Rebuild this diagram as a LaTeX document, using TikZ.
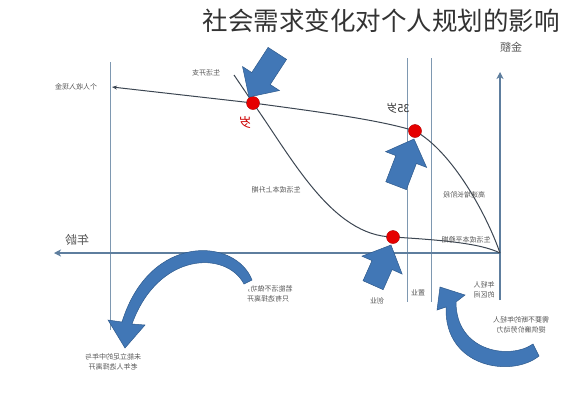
\documentclass[tikz,border=0pt]{standalone}
\usepackage{fontspec}
\usepackage{graphicx}
\setmainfont{Noto Sans CJK SC}
\usetikzlibrary{arrows.meta}
\definecolor{axisblue}{HTML}{5E7E9E}
\definecolor{curvegray}{HTML}{3C4652}
\definecolor{arrowblue}{HTML}{4177B6}
\definecolor{arrowedge}{HTML}{2E5A8C}
\definecolor{labelgray}{HTML}{555555}
\newcommand{\mirr}[1]{\reflectbox{#1}}
% block arrow: tip at origin pointing along +x; #1 total length
\newcommand{\blockarrowshape}[1]{%
  \path[bluefill] (0,0) -- (-22,22) -- (-22,11) -- (-#1,11) -- (-#1,-11) -- (-22,-11) -- (-22,-22) -- cycle;}
\tikzset{
  axisline/.style={draw=axisblue, line width=1.1pt},
  guideline/.style={draw=axisblue!80, line width=0.7pt},
  curveline/.style={draw=curvegray, line width=1pt},
  reddot/.style={circle, fill=red!90!black, draw=red!60!black, line width=0.4pt, minimum size=13pt, inner sep=0pt},
  bluefill/.style={fill=arrowblue, draw=arrowedge, line width=0.5pt},
  smalltext/.style={text=labelgray, font=\fontsize{7}{8.5}\selectfont, inner sep=1pt, align=center},
}
\begin{document}
\begin{tikzpicture}[x=1pt,y=-1pt]
\useasboundingbox (0,0) rectangle (562,400);
% title
\node (title) at (381,21) {\fontsize{25.5}{27}\selectfont\color{black!80}社会需求变化对个人规划的影响};
% guide lines
\coordinate (g1t) at (110,62); \coordinate (g1b) at (110,330);
\coordinate (g2t) at (407,58); \coordinate (g2b) at (407,302);
\coordinate (g3t) at (431,58); \coordinate (g3b) at (431,302);
\draw[guideline] (g1t) -- (g1b);
\draw[guideline] (g2t) -- (g2b);
\draw[guideline] (g3t) -- (g3b);
% axes
\coordinate (o) at (500,253);
\coordinate (ob) at (500,300);
\coordinate (ytop) at (500,72);
\coordinate (xleft) at (54,253);
\draw[axisline,-{Stealth[length=7pt,width=7pt,inset=2pt]}] (ob) -- (ytop);
\draw[axisline,-{Stealth[length=7pt,width=7pt,inset=2pt]}] (o) -- (xleft);
% red dots
\node[reddot] (d1) at (253,103) {};
\node[reddot] (d2) at (415,131) {};
\node[reddot] (d3) at (393,237) {};
% income curve
\coordinate (inc) at (112,87);
\draw[curveline,-{Stealth[length=5pt,width=4pt]}] (d1.center) -- (inc);
\draw[curveline] (d1.center) .. controls (320,112) and (380,120) .. (d2.center)
   .. controls (450,150) and (485,210) .. (o);
% expense curve
\coordinate (exp) at (234,75);
\draw[curveline] (exp) -- (d1.center) .. controls (292,158) and (332,236) .. (d3.center)
   .. controls (440,240) and (480,243) .. (o);
\fill[red!90!black] (d1) circle (6.3pt);
\fill[red!90!black] (d2) circle (6.3pt);
\fill[red!90!black] (d3) circle (6.3pt);
% block arrows
\begin{scope}[shift={(249,97)}, rotate=237]\blockarrowshape{52}\end{scope}
\begin{scope}[shift={(414,139)}, rotate=69]\blockarrowshape{50}\end{scope}
\begin{scope}[shift={(391,245)}, rotate=66]\blockarrowshape{44}\end{scope}
% curved arrows
\path[bluefill] (252,280) .. controls (236,238) and (150,232) .. (122,322)
   -- (108,320) -- (125,348) -- (145,325) -- (132,324)
   .. controls (158,252) and (226,250) .. (244,284) -- cycle;
\path[bluefill] (539,356) .. controls (512,378) and (444,368) .. (446,307)
   -- (437,310) -- (440,287) -- (465,295) -- (456,302)
   .. controls (456,352) and (510,360) .. (533,344) -- cycle;
% labels
\node[text=labelgray] (lamt) at (511,47) {\fontsize{11}{12}\selectfont\mirr{金额}};
\node[smalltext] (linc) at (76,87) {\mirr{个人收入现金}};
\node[smalltext] (lexp) at (206,73) {\mirr{生活开支}};
\node[text=red!80!black] (lage1) at (245,123) {\fontsize{13}{14}\selectfont\mirr{岁}};
\node[text=black!80] (lage2) at (398,108) {\fontsize{11}{12}\selectfont\mirr{35岁}};
\node[smalltext] (lrise) at (276,190) {\mirr{生活成本上升期}};
\node[smalltext] (lfast) at (464,195) {\mirr{高速增长阶段}};
\node[smalltext] (lflat) at (466,240) {\mirr{生活成本平稳期}};
\node[text=labelgray] (lxage) at (77,240) {\fontsize{12}{13}\selectfont\mirr{年龄}};
\node[smalltext] (lleave) at (268,294) {\mirr{\shortstack{若能活不做功，\\只有选择离开}}};
\node[smalltext] (lstart) at (377,301) {\mirr{创业}};
\node[smalltext] (lhouse) at (418,293) {\mirr{置业}};
\node[smalltext] (lyoung) at (484,290) {\mirr{\shortstack{年轻人\\的区间}}};
\node[smalltext, anchor=west] (lneed) at (492,325) {\mirr{\shortstack{需要不断的年轻人\\提供廉价劳动力}}};
\node[smalltext] (lold) at (113,362) {\mirr{\shortstack{未能立足的中年与\\老年人选择离开}}};
\end{tikzpicture}
\end{document}
